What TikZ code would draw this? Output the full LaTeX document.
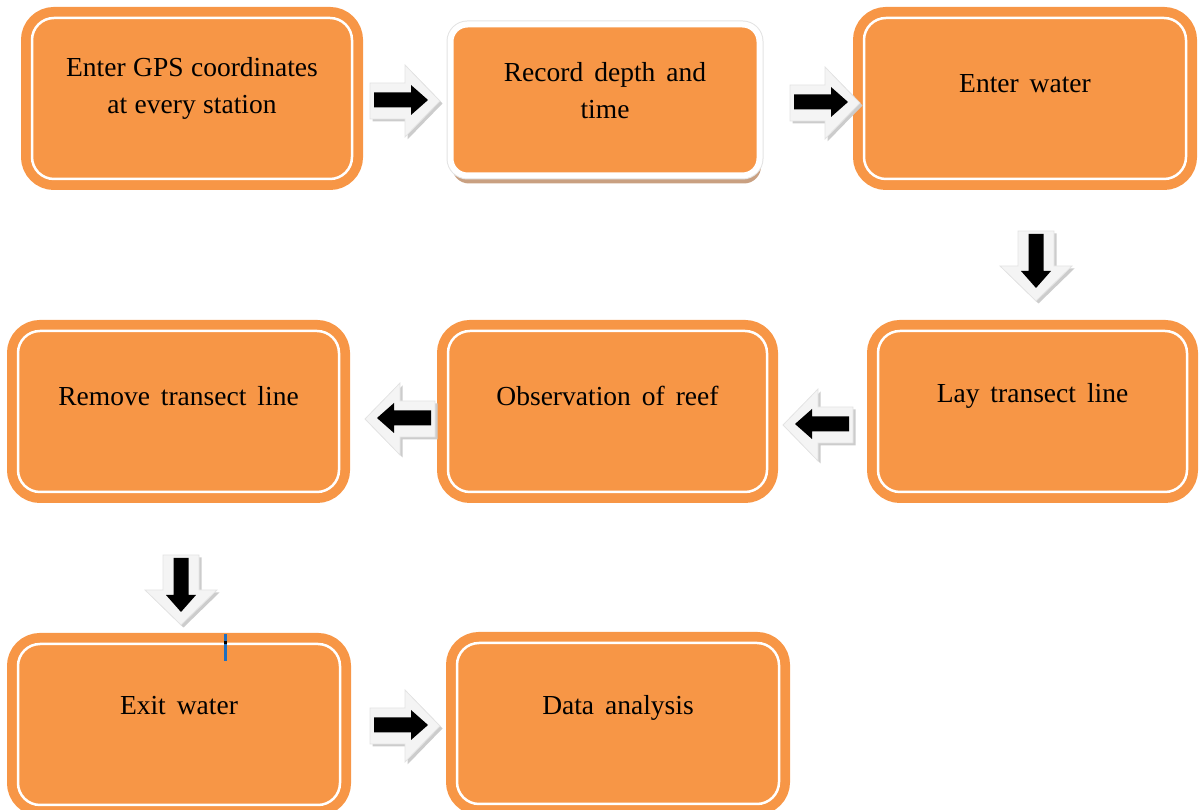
\documentclass[tikz,border=0pt]{standalone}
\usepackage{fontspec}
\setmainfont{Liberation Serif}
\usetikzlibrary{calc,shadows}
\definecolor{boxorange}{HTML}{F79646}
\definecolor{shadowtan}{RGB}{195,150,115}
\definecolor{caretblue}{HTML}{1F6FC0}
\newcommand{\boxtextfont}{\fontsize{27.5}{37}\selectfont\spaceskip=0.4em plus 0.1em\relax}
\newcommand{\tightspace}{\spaceskip=0.27em plus 0.05em\relax}
\tikzset{
  obox/.style={rectangle, rounded corners=22pt, fill=boxorange, draw=white,
    line width=2.5pt, preaction={draw=boxorange, line width=22pt},
    minimum height=161pt, inner sep=0pt, outer sep=0pt},
  pbox/.style={rectangle, rounded corners=17pt, fill=boxorange, draw=white,
    line width=6pt, minimum height=151pt, inner sep=0pt, outer sep=0pt,
    drop shadow={shadow xshift=1.5pt, shadow yshift=-8pt, fill=shadowtan, opacity=0.9},
    preaction={draw=gray!22, line width=8pt}},
  txt/.style={align=center, font=\boxtextfont, text=black, inner sep=0pt},
  arrshade/.style={fill=gray!40},
  arrface/.style={fill=gray!9, draw=gray!22, line width=0.8pt},
  arrbody/.style={fill=black},
}
\newcommand{\blkarrow}[2]{%
  \begin{scope}[shift={(#1)}]
    \begin{scope}[shift={(2.5,-3.5)}, rotate=#2]
      \path[arrshade] (-31,-18) -- (4,-18) -- (4,-36) -- (39,0) -- (4,36) -- (4,18) -- (-31,18) -- cycle;
    \end{scope}
    \begin{scope}[shift={(0,-1)}, rotate=#2]
      \path[arrface] (-31,-18) -- (4,-18) -- (4,-36) -- (39,0) -- (4,36) -- (4,18) -- (-31,18) -- cycle;
    \end{scope}
    \begin{scope}[rotate=#2]
      \path[arrbody] (-27,-7.5) -- (10,-7.5) -- (10,-15) -- (27,0) -- (10,15) -- (10,7.5) -- (-27,7.5) -- cycle;
    \end{scope}
  \end{scope}}
\begin{document}
\begin{tikzpicture}[x=1pt, y=1pt]
  \useasboundingbox (0,0) rectangle (1202,810);
  \begin{scope}
  \clip (0,0) rectangle (1202,810);
  % row 1
  \node[obox, minimum width=320pt] (b1) at (192,711.5) {};
  \node[pbox, minimum width=309pt] (b2) at (605,710) {};
  \node[obox, minimum width=322pt] (b3) at (1025,711.5) {};
  % row 2
  \node[obox, minimum width=309pt] (b4) at (1032.5,398.5) {};
  \node[obox, minimum width=319pt] (b5) at (607.5,398.5) {};
  \node[obox, minimum width=321pt] (b6) at (178.5,398.5) {};
  % row 3
  \node[obox, minimum width=322pt] (b7) at (179,85.5) {};
  \node[obox, minimum width=322pt] (b8) at (618,86.5) {};
  % texts
  \node[txt, font=\boxtextfont\tightspace] (t1) at ($(b1.center)+(0,10.5)$) {Enter GPS coordinates\\at every station};
  \node[txt] (t2) at ($(b2.center)+(0,9.5)$) {Record depth and\\time};
  \node[txt] (t3) at ($(b3.center)+(0,15)$) {Enter water};
  \node[txt] (t4) at ($(b4.center)+(0,15.5)$) {Lay transect line};
  \node[txt] (t5) at ($(b5.center)+(0,15.5)$) {Observation of reef};
  \node[txt] (t6) at ($(b6.center)+(0,15.5)$) {Remove transect line};
  \node[txt] (t7) at ($(b7.center)+(0,18.5)$) {Exit water};
  \node[txt] (t8) at ($(b8.center)+(0,16)$) {Data analysis};
  % block arrows
  \coordinate (a1) at (401,710);
  \coordinate (a2) at (821,708);
  \coordinate (a3) at (1036,549);
  \coordinate (a4) at (822,386);
  \coordinate (a5) at (404,392);
  \coordinate (a6) at (181,225);
  \coordinate (a7) at (401,85);
  \blkarrow{a1}{0}
  \blkarrow{a2}{0}
  \blkarrow{a3}{-90}
  \blkarrow{a4}{180}
  \blkarrow{a5}{180}
  \blkarrow{a6}{-90}
  \blkarrow{a7}{0}
  % text caret
  \coordinate (c1) at (223.5,149);
  \fill[caretblue] (c1) rectangle ++(3,27);
  \fill[black] ($(c1)+(0,17)$) rectangle ++(3,3);
  \end{scope}
\end{tikzpicture}
\end{document}
